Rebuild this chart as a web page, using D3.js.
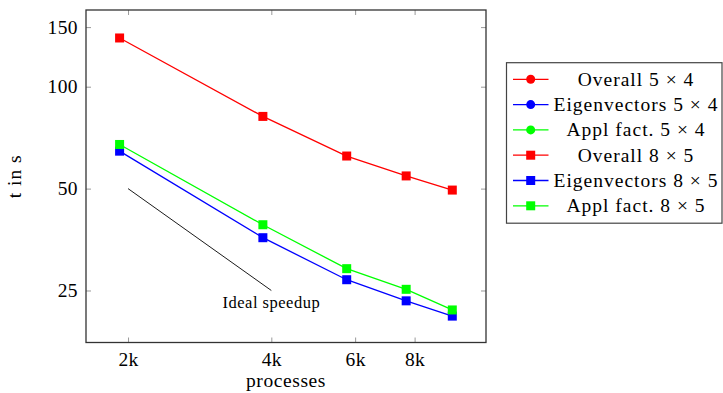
<!DOCTYPE html>
<html>
<head>
    <style>
        * { margin: 0; padding: 0; }
        body { background: #fff; }
    </style>
    <script src="https://cdn.jsdelivr.net/npm/d3@7/dist/d3.min.js"></script>
</head>
<body>
<div id="root"></div>
<script>
    // process counts and timings (t in s)
    var procs = [1920, 3840, 5760, 7680, 9600];
    var overall5x4 = [];
    var eigen5x4 = [];
    var appl5x4 = [];
    var overall8x5 = [139.3, 81.7, 62.4, 54.5, 49.5];
    var eigen8x5 = [64.5, 35.8, 26.9, 23.3, 21.0];
    var appl8x5 = [67.5, 39.1, 29.0, 25.2, 21.9];

    var idealProcs = [2000, 4000];
    var idealT = [50, 25];

    var xTicks = [2000, 4000, 6000, 8000];
    var xTickLabels = ["2k", "4k", "6k", "8k"];
    var yTicks = [25, 50, 100, 150];

    var legendLabels = ["Overall 5 \u00d7 4", "Eigenvectors 5 \u00d7 4", "Appl fact. 5 \u00d7 4",
                        "Overall 8 \u00d7 5", "Eigenvectors 8 \u00d7 5", "Appl fact. 8 \u00d7 5"];

    var FONT = "'Liberation Serif', 'Times New Roman', serif";
    var width = 723, height = 393;
    var pLeft = 86, pRight = 486, pTop = 10, pBottom = 342.5;

    var svg = d3.select("#root").append("svg").attr("width", width).attr("height", height)
        .style("font-family", FONT);

    var x = d3.scaleLog().domain([1632, 11300]).range([pLeft, pRight]);
    var y = d3.scaleLog().domain([17.55, 168.5]).range([pBottom, pTop]);

    var series = [
        { vals: overall5x4, color: "#ff0000", mark: "circle" },
        { vals: eigen5x4, color: "#0000ff", mark: "circle" },
        { vals: appl5x4, color: "#00ff00", mark: "circle" },
        { vals: overall8x5, color: "#ff0000", mark: "square" },
        { vals: eigen8x5, color: "#0000ff", mark: "square" },
        { vals: appl8x5, color: "#00ff00", mark: "square" }
    ];

    // axes with inward ticks, mirrored on top/right
    var fmtX = function (d, i) { return xTickLabels[i]; };
    var xb = d3.axisBottom(x).tickValues(xTicks).tickFormat(fmtX).tickSize(-5).tickPadding(10);
    var xt = d3.axisTop(x).tickValues(xTicks).tickFormat("").tickSize(-5);
    var yl = d3.axisLeft(y).tickValues(yTicks).tickFormat(d3.format("d")).tickSize(-5).tickPadding(8);
    var yr = d3.axisRight(y).tickValues(yTicks).tickFormat("").tickSize(-5);

    function styleAxis(g) {
        g.attr("font-family", FONT).attr("font-size", 19.5);
        g.select(".domain").remove();
        g.selectAll(".tick line").attr("stroke", "#999").attr("stroke-width", 1);
        g.selectAll(".tick text").attr("fill", "#000").style("letter-spacing", "0.4px");
    }

    svg.append("g").attr("transform", "translate(0," + pBottom + ")").call(xb).call(styleAxis);
    svg.append("g").attr("transform", "translate(0," + pTop + ")").call(xt).call(styleAxis);
    svg.append("g").attr("transform", "translate(" + pLeft + ",0)").call(yl).call(styleAxis);
    svg.append("g").attr("transform", "translate(" + pRight + ",0)").call(yr).call(styleAxis);

    // ideal speedup line
    var ideal = idealProcs.map(function (p, i) { return [p, idealT[i]]; });
    var line = d3.line().x(function (d) { return x(d[0]); }).y(function (d) { return y(d[1]); });
    svg.append("path")
        .attr("d", line(ideal))
        .attr("fill", "none").attr("stroke", "#000").attr("stroke-width", 0.9);
    svg.append("text")
        .attr("x", x(idealProcs[1]))
        .attr("y", y(idealT[1]) + 17.5)
        .attr("text-anchor", "middle")
        .style("font-size", "16.5px")
        .style("letter-spacing", "0.5px")
        .text("Ideal speedup");

    // series
    series.forEach(function (s) {
        var pts = s.vals.map(function (v, i) { return [procs[i], v]; });
        if (!pts.length) return;
        var g = svg.append("g");
        g.append("path").attr("d", line(pts)).attr("fill", "none")
            .attr("stroke", s.color).attr("stroke-width", 1.3);
        if (s.mark === "square") {
            g.selectAll("rect").data(pts).enter().append("rect")
                .attr("x", function (d) { return x(d[0]) - 4.5; })
                .attr("y", function (d) { return y(d[1]) - 4.5; })
                .attr("width", 9).attr("height", 9)
                .attr("fill", s.color);
        } else {
            g.selectAll("circle").data(pts).enter().append("circle")
                .attr("cx", function (d) { return x(d[0]); })
                .attr("cy", function (d) { return y(d[1]); })
                .attr("r", 4.5).attr("fill", s.color);
        }
    });

    // frame
    svg.append("rect").attr("x", pLeft).attr("y", pTop)
        .attr("width", pRight - pLeft).attr("height", pBottom - pTop)
        .attr("fill", "none").attr("stroke", "#333").attr("stroke-width", 1.3);

    // axis labels
    svg.append("text").attr("x", (pLeft + pRight) / 2).attr("y", 387)
        .attr("text-anchor", "middle").style("font-size", "19.5px").style("letter-spacing", "0.6px")
        .text("processes");
    svg.append("text").attr("transform", "translate(21," + (pTop + pBottom) / 2 + ") rotate(-90)")
        .attr("text-anchor", "middle").style("font-size", "19.5px").style("letter-spacing", "1px")
        .text("t in s");

    // legend
    var lx = 506.5, ly = 62.7, lw = 215.5, lh = 160.5, rowH = 25.3;
    var legend = svg.append("g");
    legend.append("rect").attr("x", lx).attr("y", ly).attr("width", lw).attr("height", lh)
        .attr("fill", "#fff").attr("stroke", "#444").attr("stroke-width", 1.2);
    series.forEach(function (s, i) {
        var cy = 79.3 + i * rowH;
        legend.append("line").attr("x1", 513).attr("x2", 548.5).attr("y1", cy).attr("y2", cy)
            .attr("stroke", s.color).attr("stroke-width", 1.3);
        if (s.mark === "square") {
            legend.append("rect").attr("x", 530.7 - 4.5).attr("y", cy - 4.5)
                .attr("width", 9).attr("height", 9).attr("fill", s.color);
        } else {
            legend.append("circle").attr("cx", 530.7).attr("cy", cy).attr("r", 4.5).attr("fill", s.color);
        }
        legend.append("text").attr("x", 636).attr("y", cy + 6.5)
            .attr("text-anchor", "middle").style("font-size", "19.5px").style("letter-spacing", "1px")
            .text(legendLabels[i]);
    });
</script>
</body>
</html>
